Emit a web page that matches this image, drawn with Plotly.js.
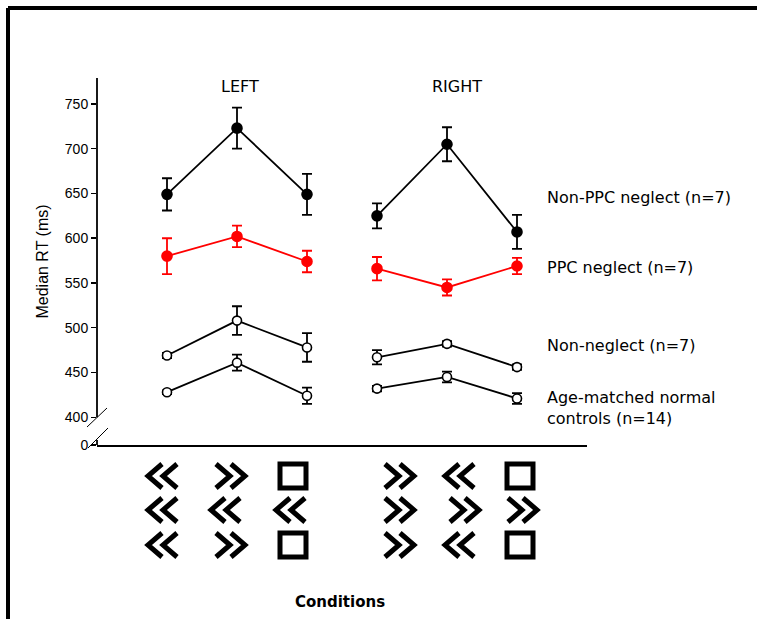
<!DOCTYPE html>
<html>
<head>
<meta charset="utf-8">
<script src="https://cdn.plot.ly/plotly-3.0.1.min.js"></script>
<style>html,body{margin:0;padding:0;background:#fff;}#chart{width:757px;height:619px;}</style>
</head>
<body>
<div id="chart"></div>
<script>
// ---- data ----
const categories = ["LEFT congruent", "LEFT incongruent", "LEFT neutral",
                    "RIGHT congruent", "RIGHT incongruent", "RIGHT neutral"];
const groupNames = ["Non-PPC neglect (n=7)", "PPC neglect (n=7)", "Non-neglect (n=7)", "Age-matched normal<br>controls (n=14)"];

const nonPPC      = [649, 723, 649, 625, 705, 607];
const nonPPCErr   = [18, 23, 23, 14, 19, 19];
const ppc         = [580, 602, 574, 566, 545, 569];
const ppcErr      = [20, 12, 12, 13, 9, 9];
const nonNeglect    = [469, 508, 478, 467, 482, 456];
const nonNeglectErr = [3, 16, 16, 8, 3, 3];
const ageMatched    = [428, 461, 424, 432, 445, 421];
const ageMatchedErr = [2, 9, 9, 3, 6, 6];

const sideLabels = ["LEFT", "RIGHT"];
const yTickVals = [369, 400, 450, 500, 550, 600, 650, 700, 750];
const yTickText = ["0", "400", "450", "500", "550", "600", "650", "700", "750"];

// stimulus rows (tick labels drawn as glyphs): "<<", ">>", "sq"
const stimTop = ["<<", ">>", "sq", ">>", "<<", "sq"];
const stimMid = ["<<", "<<", "<<", ">>", ">>", ">>"];
const stimBot = ["<<", ">>", "sq", ">>", "<<", "sq"];

// ---- layout helpers ----
const L = 97, R = 587, T = 78, B = 445;
const px = x => (x - L) / (R - L);
const py = y => (B - y) / (B - T);

const styles = [
  {vals: nonPPC, err: nonPPCErr, color: "#000000", fill: "#000000", size: 10},
  {vals: ppc, err: ppcErr, color: "#ff0000", fill: "#ff0000", size: 10},
  {vals: nonNeglect, err: nonNeglectErr, color: "#000000", fill: "#ffffff", size: 9},
  {vals: ageMatched, err: ageMatchedErr, color: "#000000", fill: "#ffffff", size: 9}
];

const traces = [];
styles.forEach((s, gi) => {
  [[0, 3], [3, 6]].forEach(([a, b]) => {
    traces.push({
      type: "scatter", mode: "lines+markers",
      x: categories.slice(a, b), y: s.vals.slice(a, b),
      name: groupNames[gi].replace("<br>", " "), showlegend: false,
      line: {color: s.color, width: 1.8},
      marker: {color: s.fill, size: s.size, line: {color: s.color, width: 1.6}},
      error_y: {type: "data", array: s.err.slice(a, b), visible: true, color: s.color, thickness: 1.8, width: 5},
      cliponaxis: false
    });
  });
});

const shapes = [];
// frame
shapes.push({type: "line", xref: "paper", yref: "paper", x0: px(8), x1: px(8), y0: py(8), y1: py(625), line: {color: "#000", width: 4}});
shapes.push({type: "line", xref: "paper", yref: "paper", x0: px(8), x1: px(760), y0: py(8), y1: py(8), line: {color: "#000", width: 4}});
// broken y axis
shapes.push({type: "line", xref: "paper", yref: "paper", x0: 0, x1: 0, y0: (400 - 369) / 410, y1: 1, line: {color: "#000", width: 1.8}});
shapes.push({type: "line", xref: "paper", yref: "paper", x0: 0, x1: 0, y0: 0, y1: py(440), line: {color: "#000", width: 1.8}});
shapes.push({type: "line", xref: "paper", yref: "paper", x0: px(87), x1: px(107), y0: py(427), y1: py(408), line: {color: "#000", width: 1}});
shapes.push({type: "line", xref: "paper", yref: "paper", x0: px(88), x1: px(108), y0: py(448), y1: py(428), line: {color: "#000", width: 1}});

// stimulus glyphs
const colPx = [165, 228, 293, 397, 462, 520];
const rowPx = [476, 510, 545];
const pathFor = g => g === "<<"
  ? "M -3,12 L -17,0 L -3,-12 M 12,12 L -2,0 L 12,-12"
  : "M 3,12 L 17,0 L 3,-12 M -12,12 L 2,0 L -12,-12";
[stimTop, stimMid, stimBot].forEach((row, ri) => {
  row.forEach((g, ci) => {
    const xa = px(colPx[ci]), ya = py(rowPx[ri]);
    if (g === "sq") {
      shapes.push({type: "rect", xref: "paper", yref: "paper", xsizemode: "pixel", ysizemode: "pixel",
        xanchor: xa, yanchor: ya, x0: -13, x1: 13, y0: -12, y1: 12,
        line: {color: "#000", width: 5}, fillcolor: "rgba(0,0,0,0)"});
    } else {
      shapes.push({type: "path", xref: "paper", yref: "paper", xsizemode: "pixel", ysizemode: "pixel",
        xanchor: xa, yanchor: ya, path: pathFor(g),
        line: {color: "#000", width: 5}});
    }
  });
});

const labelFont = {family: "DejaVu Sans", size: 16, color: "#000"};
const ann = (text, x, y, extra) => Object.assign({text: text, x: px(x), y: py(y), xref: "paper", yref: "paper",
  yanchor: "middle", showarrow: false, font: labelFont}, extra || {});
const annotations = [
  ann(sideLabels[0], 240, 86, {xanchor: "center"}),
  ann(sideLabels[1], 457, 86, {xanchor: "center"}),
  ann(groupNames[0], 545, 197, {xanchor: "left"}),
  ann(groupNames[1], 545, 267, {xanchor: "left"}),
  ann(groupNames[2], 545, 345, {xanchor: "left"}),
  ann(groupNames[3], 545, 408, {xanchor: "left", align: "left"}),
  ann("Conditions", 340, 602, {xanchor: "center", font: {family: "DejaVu Sans", size: 15, color: "#000", weight: "bold"}})
];

const layout = {
  width: 757, height: 619,
  margin: {l: L, r: 757 - R, t: T, b: 619 - B},
  paper_bgcolor: "#fff", plot_bgcolor: "#fff",
  showlegend: false,
  xaxis: {type: "category", categoryarray: categories, categoryorder: "array", range: [-1, 6],
    showline: true, linecolor: "#000", linewidth: 1.8, showticklabels: false, ticks: "",
    showgrid: false, zeroline: false},
  yaxis: {range: [369, 779], tickvals: yTickVals, ticktext: yTickText,
    ticks: "outside", ticklen: 5, tickwidth: 1.5, tickcolor: "#000",
    tickfont: {family: "Liberation Sans", size: 14, color: "#000"},
    showline: false, showgrid: false, zeroline: false,
    title: {text: "Median RT (ms)", font: {family: "Liberation Sans", size: 16, color: "#000"}, standoff: 12}},
  shapes: shapes,
  annotations: annotations
};

Plotly.newPlot("chart", traces, layout, {displayModeBar: false, staticPlot: true});
</script>
</body>
</html>
